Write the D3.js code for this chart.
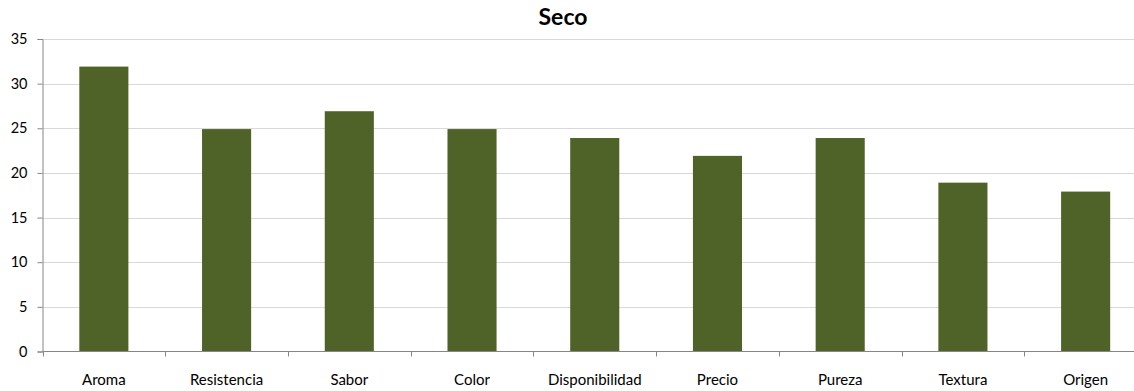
<!DOCTYPE html>
<html>
<head>
<meta charset="utf-8">
<script src="https://cdn.jsdelivr.net/npm/d3@7"></script>
<style>
  html, body { margin: 0; padding: 0; background: #fff; }
  svg { display: block; font-family: Lato, "Open Sans", sans-serif; }
</style>
</head>
<body>
<svg id="chart" width="1134" height="391"></svg>
<script>
// Chart data
const title = "Seco";
const categories = ["Aroma", "Resistencia", "Sabor", "Color", "Disponibilidad", "Precio", "Pureza", "Textura", "Origen"];
const values = [32, 25, 27, 25, 24, 22, 24, 19, 18];
const yTicks = [0, 5, 10, 15, 20, 25, 30, 35];

const svg = d3.select("#chart");
const plotLeft = 42.5, plotRight = 1147, plotTop = 39, plotBottom = 351.5;

const x = d3.scaleBand().domain(categories).range([plotLeft, plotRight]).paddingInner(0.6).paddingOuter(0.3);
const band = d3.scaleBand().domain(categories).range([plotLeft, plotRight]);
const y = d3.scaleLinear().domain([0, 35]).range([plotBottom, plotTop]);

// Gridlines
svg.append("g").selectAll("line").data(yTicks.filter(d => d > 0)).join("line")
  .attr("x1", plotLeft).attr("x2", 1134)
  .attr("y1", d => Math.round(y(d)) + 0.5).attr("y2", d => Math.round(y(d)) + 0.5)
  .attr("stroke", "#d9d9d9").attr("stroke-width", 1);

// Bars
svg.append("g").selectAll("rect").data(categories).join("rect")
  .attr("x", d => x(d))
  .attr("width", x.bandwidth())
  .attr("y", (d, i) => y(values[i]) + 0.8)
  .attr("height", (d, i) => plotBottom - y(values[i]) - 0.8)
  .attr("fill", "#4f6228");

// Y axis
const yAxis = svg.append("g").attr("transform", `translate(${plotLeft},0)`)
  .call(d3.axisLeft(y).tickValues(yTicks).tickSize(5).tickPadding(10));
yAxis.select(".domain").attr("stroke", "#868686");
yAxis.selectAll(".tick line").attr("stroke", "#868686");
yAxis.selectAll(".tick text").attr("font-size", 14.5).attr("fill", "#000")
  .attr("font-family", "Lato, 'Open Sans', sans-serif");

// X axis with tick marks at category boundaries
const xg = svg.append("g");
xg.append("line").attr("x1", plotLeft).attr("x2", 1134)
  .attr("y1", plotBottom).attr("y2", plotBottom).attr("stroke", "#868686");
xg.selectAll("line.tk").data(categories).join("line").attr("class", "tk")
  .attr("x1", d => Math.round(band(d)) + 0.5).attr("x2", d => Math.round(band(d)) + 0.5)
  .attr("y1", plotBottom).attr("y2", plotBottom + 5).attr("stroke", "#868686");
xg.selectAll("text").data(categories).join("text")
  .attr("x", d => band(d) + band.bandwidth() / 2)
  .attr("y", 385)
  .attr("text-anchor", "middle")
  .attr("font-size", 15)
  .attr("fill", "#000")
  .text(d => d);

// Title
svg.append("text").attr("x", 563).attr("y", 25)
  .attr("text-anchor", "middle").attr("font-size", 23).attr("font-weight", "bold")
  .attr("fill", "#000").text(title);
</script>
</body>
</html>
